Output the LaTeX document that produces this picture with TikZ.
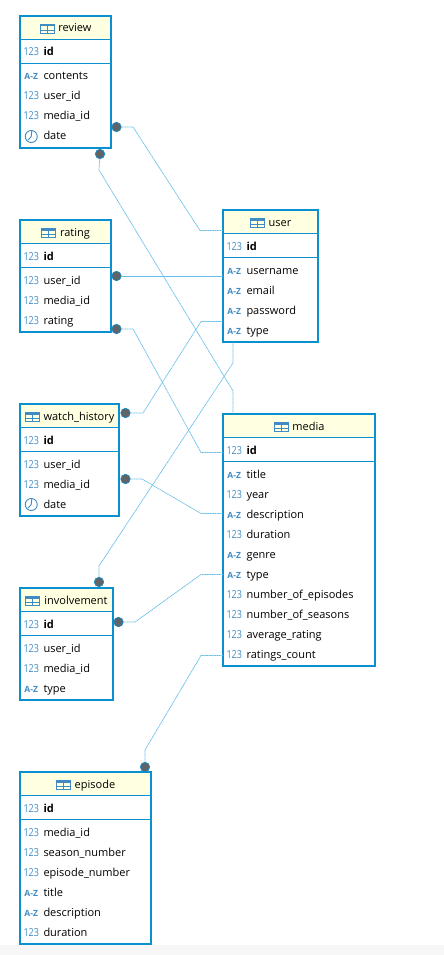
\documentclass[tikz,border=0pt]{standalone}
\usepackage{fontspec}
\usepackage{graphicx}
\setmainfont{Open Sans}
\usetikzlibrary{calc}
\usetikzlibrary{positioning, shapes}
\definecolor{tableblue}{HTML}{0A8FD0}
\definecolor{headfill}{HTML}{FFFFE1}
\definecolor{iconblue}{HTML}{3F8CC4}
\definecolor{relblue}{HTML}{62BEE8}
\definecolor{dotgrey}{HTML}{5E6468}
\newcommand\Tablesize{\fontsize{11}{20}\selectfont}
\newcommand\TblIcon{\tikz[x=1pt,y=1pt,baseline=1.5pt]{
  \fill[iconblue] (0,7) rectangle (14,9);
  \draw[iconblue,line width=.9pt] (0,0) rectangle (14,9) (0,3.5)--(14,3.5) (7,0)--(7,7);}}
\newcommand\ClockIcon{\tikz[x=1pt,y=1pt,baseline=2.5pt]{
  \draw[iconblue,line width=.9pt] (6,6) circle (6) (6.5,11)--(6,6)--(3,2.5);}}
\newcommand\Num{\textcolor{iconblue}{\scalebox{.82}[1]{123}}}
\newcommand\Txt{\textcolor{iconblue}{\fontsize{8.5}{20}\selectfont\bfseries A-Z}}
\newcommand\Row[2]{\strut\makebox[22.5pt][c]{#1}\hspace{1pt}#2\par}
\newcommand\Textbox[2]{%
  \parbox[c][#1][t]{\linewidth}{\Tablesize\vspace*{2pt}#2}}
\newcommand\Headbox[1]{%
  \parbox[c][22.5pt][t]{\linewidth}{\Tablesize\vspace*{1.5pt}\centering\strut\TblIcon\hspace{4pt}#1\par}}
\newcommand\Idbox{\Textbox{23pt}{\Row{\Num}{\bfseries id}}}

\begin{document}
\begin{tikzpicture}[x=1pt,y=-1pt,
table/.style={
  rectangle split, rectangle split parts=3,
  rectangle split draw splits=false,
  draw=tableblue, line width=1pt, inner sep=0pt, outer sep=0pt,
  anchor=north west,
  rectangle split part fill={headfill,white,white},
  postaction={draw=tableblue,line width=2pt}
},
splitline/.style={draw=tableblue, line width=1pt},
rel/.style={draw=relblue, line width=.7pt, dash pattern=on 1.2pt off .5pt},
fkdot/.style={circle, fill=dotgrey, draw=tableblue, line width=.6pt, minimum size=9.5pt, inner sep=0pt}]
\useasboundingbox (0,0) rectangle (444,955);
\fill[white] (0,0) rectangle (444,955);
\fill[black!3] (0,945) rectangle (444,955);
% tables
\node (review) [table, text width=91pt] at (20,16) {
\nodepart{one} \Headbox{review}
\nodepart{two} \Idbox
\nodepart{three} \Textbox{83.5pt}{\Row{\Txt}{contents}\Row{\Num}{user\_id}\Row{\Num}{media\_id}\Row{\ClockIcon}{date}}
};
\node (rating) [table, text width=91pt] at (20,220) {
\nodepart{one} \Headbox{rating}
\nodepart{two} \Idbox
\nodepart{three} \Textbox{63.5pt}{\Row{\Num}{user\_id}\Row{\Num}{media\_id}\Row{\Num}{rating}}
};
\node (watch) [table, text width=99pt] at (20,404) {
\nodepart{one} \Headbox{watch\_history}
\nodepart{two} \Idbox
\nodepart{three} \Textbox{63.5pt}{\Row{\Num}{user\_id}\Row{\Num}{media\_id}\Row{\ClockIcon}{date}}
};
\node (involvement) [table, text width=93pt] at (20,588) {
\nodepart{one} \Headbox{involvement}
\nodepart{two} \Idbox
\nodepart{three} \Textbox{63.5pt}{\Row{\Num}{user\_id}\Row{\Num}{media\_id}\Row{\Txt}{type}}
};
\node (episode) [table, text width=131pt] at (20,772) {
\nodepart{one} \Headbox{episode}
\nodepart{two} \Idbox
\nodepart{three} \Textbox{123.5pt}{\Row{\Num}{media\_id}\Row{\Num}{season\_number}\Row{\Num}{episode\_number}\Row{\Txt}{title}\Row{\Txt}{description}\Row{\Num}{duration}}
};
\node (user) [table, text width=95pt] at (223,210) {
\nodepart{one} \Headbox{user}
\nodepart{two} \Idbox
\nodepart{three} \Textbox{83.5pt}{\Row{\Txt}{username}\Row{\Txt}{email}\Row{\Txt}{password}\Row{\Txt}{type}}
};
\node (media) [table, text width=152pt] at (223,414) {
\nodepart{one} \Headbox{media}
\nodepart{two} \Idbox
\nodepart{three} \Textbox{203.5pt}{\Row{\Txt}{title}\Row{\Num}{year}\Row{\Txt}{description}\Row{\Num}{duration}\Row{\Txt}{genre}\Row{\Txt}{type}\Row{\Num}{number\_of\_episodes}\Row{\Num}{number\_of\_seasons}\Row{\Num}{average\_rating}\Row{\Num}{ratings\_count}}
};
\foreach \t in {review,rating,watch,involvement,episode,user,media}
  \draw[splitline] (\t.text split west) -- (\t.text split east)
    (\t.two split west) -- (\t.two split east);
% foreign key dots
\node (reviewU) [fkdot] at (116.5,127) {};
\node (reviewM) [fkdot] at (100,154) {};
\node (ratingU) [fkdot] at (116.5,276) {};
\node (ratingM) [fkdot] at (116.5,329) {};
\node (watchU) [fkdot] at (125.5,413) {};
\node (watchM) [fkdot] at (125.5,479) {};
\node (involvementU) [fkdot] at (99,582) {};
\node (involvementM) [fkdot] at (118.5,622) {};
\node (episodeM) [fkdot] at (145,767) {};
% relations
\draw[rel] (reviewU) -- (133,127) -- (200,230.5) -- (user.west |- 0,230.5);
\draw[rel] (reviewM) -- (99,170) -- (233,391) -- (media.north -| 233,0);
\draw[rel, solid] (ratingU) -- (user.west |- ratingU);
\draw[rel] (ratingM) -- (133,329) -- (201,452.5) -- (media.west |- 0,452.5);
\draw[rel] (watchU) -- (143,413) -- (201,321.5) -- (user.west |- 0,321.5);
\draw[rel] (watchM) -- (142,479) -- (201,513.5) -- (media.west |- 0,513.5);
\draw[rel] (involvementU) -- (99,566) -- (233,363) -- (user.south -| 233,0);
\draw[rel] (involvementM) -- (135,622) -- (201,574.5) -- (media.west |- 0,574.5);
\draw[rel] (episodeM) -- (145,750) -- (201,655.5) -- (media.west |- 0,655.5);
\end{tikzpicture}
\end{document}
